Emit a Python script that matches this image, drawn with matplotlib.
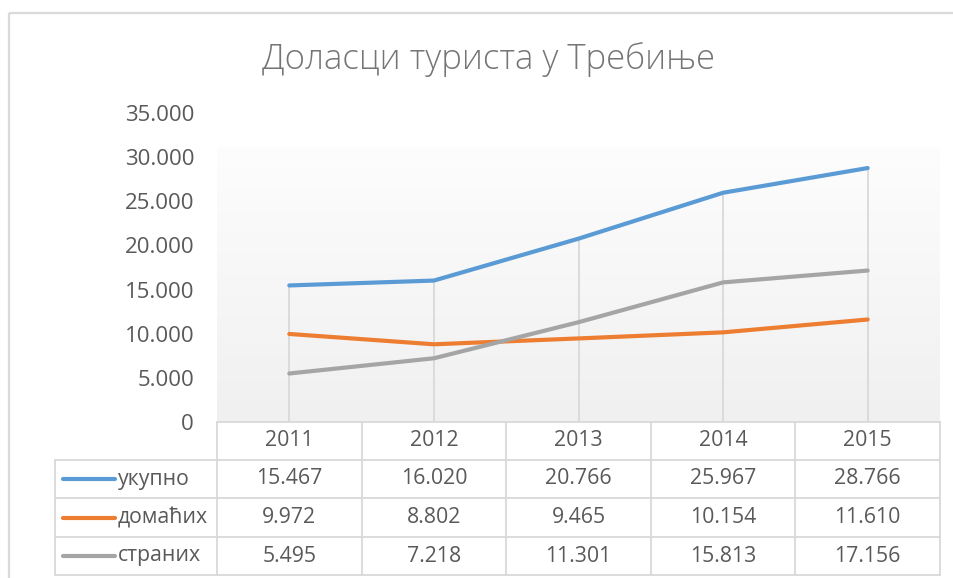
import numpy as np
import matplotlib
matplotlib.use("Agg")
import matplotlib.pyplot as plt
from matplotlib.patches import Rectangle

# ---------------- data ----------------
years = ["2011", "2012", "2013", "2014", "2015"]
ukupno = [15467, 16020, 20766, 25967, 28766]
domacih = [9972, 8802, 9465, 10154, 11610]
stranih = [5495, 7218, 11301, 15813, 17156]
series_names = ["укупно", "домаћих", "страних"]
title_text = "Доласци туриста у Требиње"
y_ticks = [0, 5000, 10000, 15000, 20000, 25000, 30000, 35000]

series_values = [ukupno, domacih, stranih]
colors = ["#5b9bd5", "#ed7d31", "#a5a5a5"]
TXT = "#595959"
GRID = "#d9d9d9"
FONT = ["Open Sans", "Noto Sans", "DejaVu Sans"]
plt.rcParams["font.family"] = FONT

W, H = 954, 578
fig = plt.figure(figsize=(W / 100, H / 100), dpi=100)
fig.patch.set_facecolor("white")

def fx(px):
    return px / W

def fy(py):
    return 1 - py / H

# overlay in pixel coords (y downward)
ov = fig.add_axes([0, 0, 1, 1], zorder=0)
ov.set_xlim(0, W)
ov.set_ylim(H, 0)
ov.axis("off")

# chart border
ov.add_patch(Rectangle((9, 13), W + 20, H + 20, fill=False, edgecolor=GRID, lw=1.6))

# main plot axes: x 217..940, y 113 (35000) .. 422 (0)
L, R, T, B = 217, 940, 113, 422
ax = fig.add_axes([fx(L), fy(B), (R - L) / W, (B - T) / H], zorder=1)
ax.patch.set_alpha(0)
x = np.arange(len(years))

# gradient plot-area fill
grad = np.linspace(0, 1, 256).reshape(-1, 1)
c_top = np.array([0xfd, 0xfd, 0xfd]) / 255
c_bot = np.array([0xf0, 0xf0, 0xf0]) / 255
img = c_top[None, None, :] * (1 - grad[:, :, None]) + c_bot[None, None, :] * grad[:, :, None]
top_frac = (B - 147) / (B - T)
ax.imshow(img, extent=[0, 1, 0, top_frac], transform=ax.transAxes, aspect="auto", zorder=0)

# drop lines
maxv = np.max(np.array(series_values), axis=0)
ax.vlines(x, 0, maxv, colors=GRID, lw=1.3, zorder=1)

for vals, c in zip(series_values, colors):
    ax.plot(x, vals, color=c, lw=3.0, solid_capstyle="round", solid_joinstyle="round", zorder=3)

ax.set_xlim(-0.5, len(years) - 0.5)
ax.set_ylim(0, 35000)
ax.set_yticks(y_ticks)
ax.set_yticklabels([f"{v:,}".replace(",", ".") for v in y_ticks])
ax.set_xticks([])
ax.tick_params(axis="y", length=0, pad=16.5, labelsize=16, labelcolor=TXT)
for s in ax.spines.values():
    s.set_visible(False)

# title
fig.text(fx((265 + 712) / 2), fy(60), title_text, ha="center", va="center",
         fontsize=25, color="#757575", fontweight="light")

# ---------------- data table ----------------
tab = fig.add_axes([0, 0, 1, 1], zorder=2)
tab.set_xlim(0, W)
tab.set_ylim(H, 0)
tab.axis("off")
tab.patch.set_alpha(0)

fig.canvas.draw()
# category cell boundaries from main axes scale
def cat_px(v):
    d = ax.transData.transform((v, 0))
    return tab.transData.inverted().transform(d)[0]

edges = [cat_px(v - 0.5) for v in range(len(years))] + [cat_px(len(years) - 0.5)]
centers = [cat_px(v) for v in x]
row_y = [422, 460, 498, 537, 575]
leg_left = 55
lw_t = 1.3

# horizontal lines
tab.plot([edges[0], edges[-1]], [row_y[0], row_y[0]], color=GRID, lw=lw_t)
for yy in row_y[1:]:
    tab.plot([leg_left, edges[-1]], [yy, yy], color=GRID, lw=lw_t)
# vertical lines
for e in edges:
    tab.plot([e, e], [row_y[0], row_y[-1]], color=GRID, lw=lw_t)
tab.plot([leg_left, leg_left], [row_y[1], row_y[-1]], color=GRID, lw=lw_t)

FS = 15.3
for c, yr in zip(centers, years):
    tab.text(c, (row_y[0] + row_y[1]) / 2, yr, ha="center", va="center", fontsize=FS, color=TXT)

for i, (name, vals, col) in enumerate(zip(series_names, series_values, colors)):
    yc = (row_y[i + 1] + row_y[i + 2]) / 2
    tab.plot([63, 115], [yc, yc], color=col, lw=3.0, solid_capstyle="round")
    tab.text(118, yc, name, ha="left", va="center", fontsize=FS, color=TXT)
    for c, v in zip(centers, vals):
        tab.text(c, yc, f"{v:,}".replace(",", "."), ha="center", va="center", fontsize=FS, color=TXT)

fig.savefig("out.png", dpi=100)
